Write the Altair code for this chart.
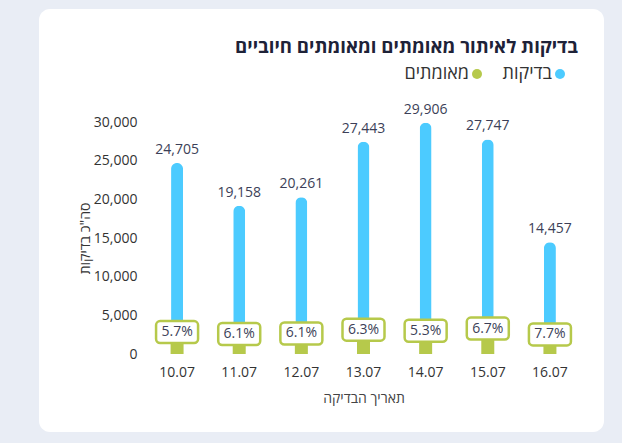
import altair as alt
import pandas as pd

# Daily test counts and positive rate (%)
dates = ["10.07", "11.07", "12.07", "13.07", "14.07", "15.07", "16.07"]
tests = [24705, 19158, 20261, 27443, 29906, 27747, 14457]
positive_pct = [5.7, 6.1, 6.1, 6.3, 5.3, 6.7, 7.7]
y_ticks = [0, 5000, 10000, 15000, 20000, 25000, 30000]

# Legend entries (right to left)
legend_labels = ["בדיקות", "מאומתים"]
legend_colors = ["#4ccbff", "#b6c94b"]

BLUE = "#4ccbff"
GREEN = "#b6c94b"
TEXT = "#3c3f58"
FONT = "Open Sans"

df = pd.DataFrame({
    "date": dates,
    "tests": tests,
    "pct": positive_pct,
})
df["confirmed"] = (df["tests"] * df["pct"] / 100).round()
df["pct_label"] = df["pct"].map(lambda v: f"{v}%")

W, H = 435, 232
LEFT, TOP = 146, 122

x_axis = alt.Axis(
    title="תאריך הבדיקה",
    labelAngle=0,
    domain=False,
    ticks=False,
    labelPadding=11,
    labelFontSize=14,
    labelColor="#333333",
    titleFontSize=14,
    titleFontWeight="normal",
    titleColor="#444444",
    titlePadding=12,
    zindex=1,
)
x_scale = alt.Scale(paddingInner=0, paddingOuter=0)
x_enc = alt.X("date:N", sort=dates, scale=x_scale, axis=x_axis)

y_scale = alt.Scale(domain=[0, 30000], nice=False)
y_axis = alt.Axis(
    title="סה\"כ בדיקות",
    values=y_ticks,
    format=",d",
    domain=False,
    ticks=False,
    grid=False,
    labelOverlap=False,
    labelFlush=False,
    labelPadding=9,
    labelFontSize=14,
    labelColor="#333333",
    titleFontSize=14,
    titleFontWeight="normal",
    titleColor="#333333",
    titleAngle=-90,
    titleX=-61,
    titleY=H / 2,
    titleAlign="center",
    titleBaseline="middle",
    zindex=1,
)


def y_enc(field):
    return alt.Y(f"{field}:Q", scale=y_scale, axis=y_axis)


base = alt.Chart(df)

# White card behind the chart
one = pd.DataFrame({"k": [0]})
card = alt.Chart(one).mark_rect(fill="white", cornerRadius=11).encode(
    x=alt.value(39 - LEFT), x2=alt.value(604 - LEFT),
    y=alt.value(9 - TOP), y2=alt.value(432 - TOP),
)

blue_bars = base.mark_bar(
    color=BLUE, size=12, cornerRadiusTopLeft=6, cornerRadiusTopRight=6
).encode(x=x_enc, y=y_enc("tests"))

green_bars = base.mark_bar(color=GREEN, size=13).encode(
    x=x_enc, y=y_enc("confirmed")
)

boxes = base.mark_bar(
    size=42, fill="white", stroke=GREEN, strokeWidth=2.5,
    cornerRadius=4, y2Offset=-22,
).encode(x=x_enc, y=y_enc("confirmed"), y2="confirmed:Q")

box_text = base.mark_text(
    fontSize=14, color=TEXT, baseline="middle", dy=-11, font=FONT
).encode(x=x_enc, y=y_enc("confirmed"), text="pct_label:N")

value_text = base.mark_text(
    fontSize=14, color=TEXT, baseline="alphabetic", dy=-9, font=FONT
).encode(
    x=x_enc, y=y_enc("tests"),
    text=alt.Text("tests:Q", format=","),
)

# Right-to-left legend: dot to the right of its label
legend_layers = []
legend_y = 74 - TOP
dot_x = [560 - LEFT, 477 - LEFT]
for label, color, dx in zip(legend_labels, legend_colors, dot_x):
    legend_layers.append(
        alt.Chart(one).mark_point(
            filled=True, size=100, opacity=1, shape="circle", color=color
        ).encode(x=alt.value(dx), y=alt.value(legend_y))
    )
    legend_layers.append(
        alt.Chart(one).mark_text(
            align="right", baseline="middle", fontSize=18,
            color="#333333", font=FONT, text=label,
        ).encode(x=alt.value(dx - 8), y=alt.value(legend_y))
    )

chart = alt.layer(
    card, blue_bars, green_bars, boxes, box_text, value_text, *legend_layers,
).properties(
    width=W,
    height=H,
    background="#e9edf5",
    autosize=alt.AutoSizeParams(type="none"),
    padding={"left": LEFT, "top": TOP, "right": 622 - LEFT - W, "bottom": 443 - TOP - H},
    title=alt.TitleParams(
        "בדיקות לאיתור מאומתים ומאומתים חיוביים",
        anchor="end",
        frame="group",
        fontSize=18.6,
        fontWeight="bold",
        color="#1e2238",
        font=FONT,
        offset=0,
        dx=-3,
        dy=48,
    ),
).configure(font=FONT).configure_view(stroke=None)

chart.save("out.html", embed_options={"renderer": "svg", "actions": False})
